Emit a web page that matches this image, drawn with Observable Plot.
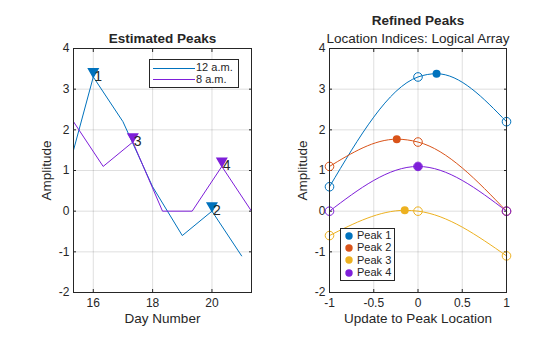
<!DOCTYPE html>
<html><head><meta charset="utf-8">
<script src="https://cdn.jsdelivr.net/npm/d3@7"></script>
<script src="https://cdn.jsdelivr.net/npm/@observablehq/plot@0.6"></script>
<style>
body{margin:0;background:#fff;}
#fig{position:relative;width:560px;height:337px;font-family:"Liberation Sans",Arial,sans-serif;color:#262626;background:#fff;}
#fig svg.plotsvg{position:absolute;top:0;}
.legend{position:absolute;background:#fff;border:1px solid #262626;box-sizing:border-box;font-size:11px;line-height:1;}
.legend .row{position:absolute;left:0;white-space:nowrap;}
</style></head><body><div id="fig"></div>
<script>
// ---- data ----
const days12 = [15, 16, 17, 18, 19, 20, 21];
const amp12 = [0.6, 3.3, 2.2, 0.6, -0.6, 0, -1.1];
const days8 = [15.333, 16.333, 17.333, 18.333, 19.333, 20.333, 21.333];
const amp8 = [2.2, 1.1, 1.7, 0, 0, 1.1, 0];
const seriesNames = ["12 a.m.", "8 a.m."];
const peakDays = [16, 20, 17.333, 20.333];
const peakAmps = [3.3, 0, 1.7, 1.1];
const peakSeries = ["12 a.m.", "12 a.m.", "8 a.m.", "8 a.m."];
const peakLabels = ["1", "2", "3", "4"];
const xTicksLeft = [16, 18, 20];
const yTicks = [-2, -1, 0, 1, 2, 3, 4];

const peakNames = ["Peak 1", "Peak 2", "Peak 3", "Peak 4"];
const offsets = [-1, 0, 1];
const sampleAmps = [[0.6, 3.3, 2.2], [1.1, 1.7, 0], [-0.6, 0, -1.1], [0, 1.1, 0]];
const refinedLoc = [0.21, -0.24, -0.15, 0];
const refinedAmp = [3.38, 1.77, 0.02, 1.1];
const xTicksRight = [-1, -0.5, 0, 0.5, 1];

const seriesColors = ["#0072BD", "#7E1FD9"];
const peakColors = ["#0072BD", "#D95319", "#EDB120", "#7E1FD9"];
const ink = "#262626";
const font = '"Liberation Sans", Arial, sans-serif';

// ---- tables ----
const leftLines = [
  ...days12.map((d, i) => ({day: d, amp: amp12[i], series: seriesNames[0]})),
  ...days8.map((d, i) => ({day: d, amp: amp8[i], series: seriesNames[1]}))
];
const leftPeaks = peakDays.map((d, i) => ({day: d, amp: peakAmps[i], series: peakSeries[i], label: peakLabels[i]}));

const samples = [];
const curves = [];
peakNames.forEach((p, k) => {
  offsets.forEach((o, j) => {
    samples.push({loc: o, amp: sampleAmps[k][j], peak: p});
    curves.push({loc: o, amp: sampleAmps[k][j], peak: p});
  });
  if (!offsets.includes(refinedLoc[k])) curves.push({loc: refinedLoc[k], amp: refinedAmp[k], peak: p});
});
curves.sort((a, b) => (a.peak < b.peak ? -1 : a.peak > b.peak ? 1 : a.loc - b.loc));
const refined = peakNames.map((p, k) => ({loc: refinedLoc[k], amp: refinedAmp[k], peak: p}));

const triangleDown = {
  draw(ctx, size) {
    const y = Math.sqrt(size / (3 * Math.sqrt(3)));
    ctx.moveTo(0, 2 * y);
    ctx.lineTo(-Math.sqrt(3) * y, -y);
    ctx.lineTo(Math.sqrt(3) * y, -y);
    ctx.closePath();
  }
};

const fmt = (d) => String(d);

function boxAxes(xt) {
  return [
    Plot.gridX(xt, {stroke: ink, strokeOpacity: 0.15}),
    Plot.gridY(yTicks, {stroke: ink, strokeOpacity: 0.15}),
    Plot.axisX(xt, {anchor: "bottom", tickSize: 0, tickPadding: 6, fontSize: 12, label: null, fill: ink, tickFormat: fmt}),
    Plot.axisY(yTicks, {anchor: "left", tickSize: 0, tickPadding: 4, fontSize: 12, label: null, fill: ink, tickFormat: fmt}),
    Plot.axisX(xt, {anchor: "bottom", tickSize: 3, dy: -3, fill: "none", label: null, stroke: ink}),
    Plot.axisX(xt, {anchor: "top", tickSize: 3, dy: 3, fill: "none", label: null, stroke: ink}),
    Plot.axisY(yTicks, {anchor: "left", tickSize: 3, dx: 3, fill: "none", label: null, stroke: ink}),
    Plot.axisY(yTicks, {anchor: "right", tickSize: 3, dx: -3, fill: "none", label: null, stroke: ink})
  ];
}

const common = {
  width: 280, height: 337, marginTop: 48, marginBottom: 45,
  style: {fontFamily: font, fontSize: "12px", color: ink, background: "none", overflow: "visible"},
  y: {domain: [-2, 4]}
};

const left = Plot.plot({
  ...common,
  marginLeft: 73, marginRight: 29,
  x: {domain: [15.333, 21.333]},
  color: {domain: seriesNames, range: seriesColors},
  marks: [
    ...boxAxes(xTicksLeft),
    Plot.line(leftLines, {x: "day", y: "amp", z: "series", stroke: "series", strokeWidth: 1, clip: true}),
    Plot.dot(leftPeaks, {x: "day", y: "amp", fill: "series", stroke: "series", symbol: triangleDown, r: 3.5, dy: -5.4}),
    Plot.text(leftPeaks, {x: "day", y: "amp", text: "label", textAnchor: "start", lineAnchor: "middle", dx: 1, dy: -0.5, fontSize: 14, fill: ink}),
    Plot.frame({stroke: ink}),
    Plot.text(["Estimated Peaks"], {frameAnchor: "top", lineAnchor: "middle", textAnchor: "middle", dy: -10, fontWeight: "bold", fontSize: 13.5, fill: ink}),
    Plot.text(["Day Number"], {frameAnchor: "bottom", lineAnchor: "middle", textAnchor: "middle", dy: 26.5, fontSize: 13.5, fill: ink}),
    Plot.text(["Amplitude"], {frameAnchor: "left", lineAnchor: "middle", textAnchor: "middle", dx: -27, rotate: -90, fontSize: 13.5, fill: ink})
  ]
});

const right = Plot.plot({
  ...common,
  marginLeft: 49, marginRight: 54,
  x: {domain: [-1, 1]},
  color: {domain: peakNames, range: peakColors},
  marks: [
    ...boxAxes(xTicksRight),
    Plot.line(curves, {x: "loc", y: "amp", z: "peak", stroke: "peak", strokeWidth: 1, curve: "monotone-x"}),
    Plot.dot(samples, {x: "loc", y: "amp", stroke: "peak", fill: "none", r: 4.3, strokeWidth: 1}),
    Plot.dot(refined, {x: "loc", y: "amp", fill: "peak", r: 4}),
    Plot.frame({stroke: ink}),
    Plot.text(["Refined Peaks"], {frameAnchor: "top", lineAnchor: "middle", textAnchor: "middle", dy: -28, fontWeight: "bold", fontSize: 13.5, fill: ink}),
    Plot.text(["Location Indices: Logical Array"], {frameAnchor: "top", lineAnchor: "middle", textAnchor: "middle", dy: -10, fontSize: 13.5, fill: ink}),
    Plot.text(["Update to Peak Location"], {frameAnchor: "bottom", lineAnchor: "middle", textAnchor: "middle", dy: 26.5, fontSize: 13.5, fill: ink}),
    Plot.text(["Amplitude"], {frameAnchor: "left", lineAnchor: "middle", textAnchor: "middle", dx: -26.5, rotate: -90, fontSize: 13.5, fill: ink})
  ]
});

const fig = document.getElementById("fig");
left.classList.add("plotsvg");
right.classList.add("plotsvg");
left.style.left = "0px";
right.style.left = "280px";
fig.appendChild(left);
fig.appendChild(right);

// ---- legends ----
function legend(items, colors, kind, box) {
  const div = document.createElement("div");
  div.className = "legend";
  Object.assign(div.style, {left: box.left + "px", top: box.top + "px", width: box.width + "px", height: box.height + "px"});
  items.forEach((name, i) => {
    const row = document.createElement("div");
    row.className = "row";
    row.style.top = (box.first + i * box.step - 6) + "px";
    row.style.height = "12px";
    const sw = document.createElementNS("http://www.w3.org/2000/svg", "svg");
    sw.setAttribute("width", box.swatchW);
    sw.setAttribute("height", 12);
    sw.style.position = "absolute";
    sw.style.left = box.swatchX + "px";
    sw.style.top = "0px";
    if (kind === "line") {
      const l = document.createElementNS("http://www.w3.org/2000/svg", "line");
      l.setAttribute("x1", 0); l.setAttribute("x2", box.swatchW);
      l.setAttribute("y1", 6.5); l.setAttribute("y2", 6.5);
      l.setAttribute("stroke", colors[i]); l.setAttribute("stroke-width", 1);
      sw.appendChild(l);
    } else {
      const c = document.createElementNS("http://www.w3.org/2000/svg", "circle");
      c.setAttribute("cx", box.swatchW / 2); c.setAttribute("cy", 6);
      c.setAttribute("r", 3.7); c.setAttribute("fill", colors[i]);
      sw.appendChild(c);
    }
    row.appendChild(sw);
    const t = document.createElement("span");
    t.textContent = name;
    t.style.position = "absolute";
    t.style.left = box.textX + "px";
    t.style.top = "0.5px";
    row.appendChild(t);
    div.appendChild(row);
  });
  fig.appendChild(div);
}
legend(seriesNames, seriesColors, "line", {left: 149, top: 59, width: 90, height: 29, first: 7.5, step: 11.7, swatchX: 3, swatchW: 42, textX: 46});
legend(peakNames, peakColors, "dot", {left: 340, top: 228, width: 55, height: 53, first: 6.5, step: 12.4, swatchX: 3, swatchW: 10, textX: 16});
</script></body></html>
